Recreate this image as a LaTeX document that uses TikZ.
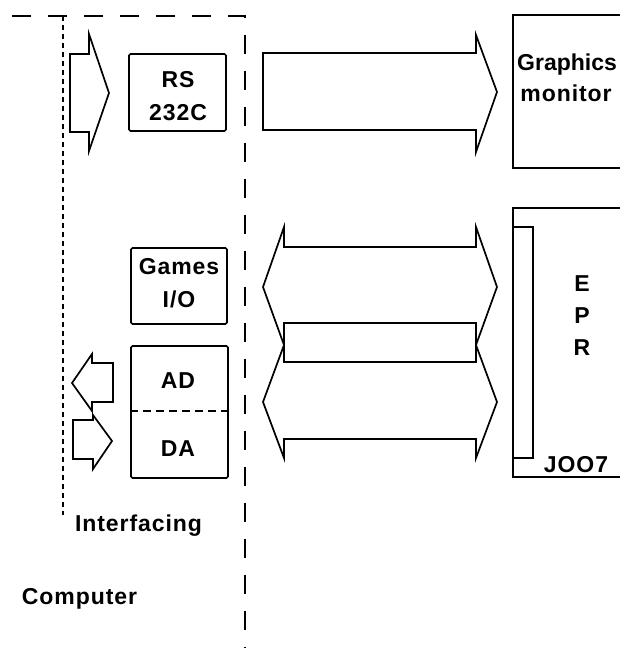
\documentclass[tikz,border=0pt]{standalone}
\usepackage{fontspec}
\setmainfont[LetterSpace=4]{Liberation Sans}
\newfontfamily\tightfont{Liberation Sans}
\begin{document}
\begin{tikzpicture}[x=1pt,y=-1pt,
  ln/.style={line width=1.7pt,line join=miter},
  box/.style={draw,line width=1.7pt,rounded corners=1.5pt,inner sep=0pt},
  lbl/.style={font=\bfseries\fontsize{23}{31}\selectfont,inner sep=0pt,anchor=base},
  outerdash/.style={line width=1.7pt,dash pattern=on 19pt off 17pt},
  innerdash/.style={line width=1.4pt,dash pattern=on 5pt off 4pt}]
\clip (0,0) rectangle (620,648);
\fill[white] (0,0) rectangle (620,648);
% boundary dashed lines
\coordinate (ot1) at (12,16);
\coordinate (ot2) at (245,16);
\coordinate (ot3) at (245,648);
\draw[outerdash] (ot1) -- (ot2) -- (ot3);
\coordinate (it1) at (63,16);
\coordinate (it2) at (63,515);
\draw[innerdash] (it1) -- (it2);
% boxes
\node[box,minimum width=97pt,minimum height=77pt] (rs) at (177.5,92.5) {};
\node[lbl] (rsa) at (178,87) {RS};
\node[lbl] (rsb) at (178,120) {232C};
\node[box,minimum width=96pt,minimum height=76pt] (games) at (179,286) {};
\node[lbl] (ga) at (179,274) {Games};
\node[lbl] (gb) at (179,307) {I/O};
\node[box,minimum width=97pt,minimum height=132pt] (adda) at (179.5,412) {};
\draw[line width=1.6pt,dash pattern=on 8pt off 5pt] (adda.west |- 0,411) -- (adda.east |- 0,411);
\node[lbl] (ad) at (178,388) {AD};
\node[lbl] (da) at (178,456) {DA};
% right-hand devices
\draw[ln] (625,15) -- (513,15) -- (513,168) -- (625,168);
\node[lbl,anchor=base west,font=\tightfont\bfseries\fontsize{23}{31}\selectfont] (gr1) at (517,70) {Graphics};
\node[lbl] (gr2) at (566,101) {monitor};
\draw[ln] (625,208) -- (513,208) -- (513,477) -- (625,477);
\draw[ln] (513,227) -- (533,227) -- (533,458) -- (513,458);
\node[lbl] (e) at (582,291) {E};
\node[lbl] (p) at (582,323) {P};
\node[lbl] (r) at (582,355) {R};
\node[lbl] (j) at (576,472) {JOO7};
% arrows
\draw[ln] (70,54) -- (89,54) -- (89,34) -- (109,93) -- (89,151) -- (89,132) -- (70,132) -- cycle;
\draw[ln] (263,53) -- (476,53) -- (476,35) -- (497,92) -- (476,152) -- (476,130) -- (263,130) -- cycle;
\draw[ln] (113,363) -- (92,363) -- (92,354) -- (72,383) -- (92,411) -- (92,402) -- (113,402) -- cycle;
\draw[ln] (73,420) -- (93,420) -- (93,415) -- (112,441) -- (93,469) -- (93,459) -- (73,459) -- cycle;
% double arrows
\draw[ln] (284,345) -- (263,287) -- (284,227) -- (284,247) -- (476,247) -- (476,227) -- (497,287) -- (476,345);
\draw[ln] (284,345) -- (263,402) -- (284,458) -- (284,439) -- (476,439) -- (476,458) -- (497,402) -- (476,345);
\draw[ln] (284,323) rectangle (476,362);
\node[lbl] (intf) at (138.5,531) {Interfacing};
\node[lbl] (comp) at (79.5,604) {Computer};
\end{tikzpicture}
\end{document}
